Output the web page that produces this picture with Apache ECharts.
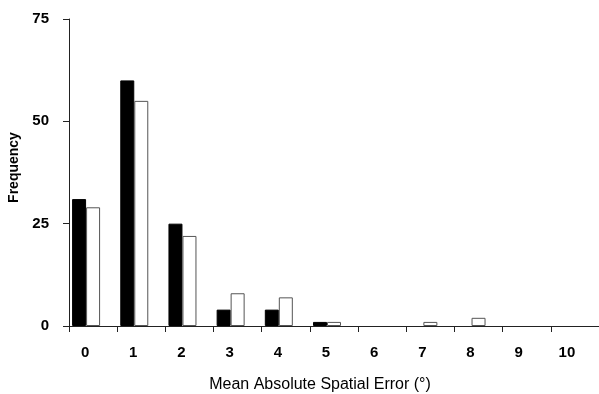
<!DOCTYPE html>
<html>
<head>
<meta charset="utf-8">
<script src="https://cdn.jsdelivr.net/npm/echarts@6/dist/echarts.min.js"></script>
<style>
  html, body { margin: 0; padding: 0; background: #fff; }
  #chart { width: 599px; height: 394px; }
</style>
</head>
<body>
<div id="chart"></div>
<script>
// mean absolute spatial error histogram
var categories = ['0', '1', '2', '3', '4', '5', '6', '7', '8', '9', '10'];
var blackValues = [31, 60, 25, 4, 4, 1, 0, 0, 0, 0, 0];
var whiteValues = [29, 55, 22, 8, 7, 1, 0, 1, 2, 0, 0];
var yTicks = [0, 25, 50, 75];

var chart = echarts.init(document.getElementById('chart'));
var font = 'Liberation Sans, Arial, sans-serif';

// zero counts draw nothing in the original
function noZero(arr) {
    return arr.map(function (v) { return v === 0 ? '-' : v; });
}

var option = {
    animation: false,
    grid: { left: 69, right: 0, top: 19, bottom: 68, outerBoundsMode: 'none' },
    xAxis: {
        type: 'category',
        data: categories,
        name: 'Mean Absolute Spatial Error (°)',
        nameLocation: 'middle',
        nameGap: 51,
        nameTextStyle: { color: '#000', fontSize: 16, fontFamily: font, padding: [0, 28, 0, 0] },
        axisLine: { lineStyle: { color: '#222', width: 1 } },
        axisTick: { show: true, length: 6, inside: false, lineStyle: { color: '#222' } },
        axisLabel: { color: '#000', fontSize: 15, fontWeight: 'bold', fontFamily: font, margin: 19, padding: [0, 16, 0, 0] }
    },
    yAxis: {
        type: 'value',
        min: yTicks[0],
        max: yTicks[yTicks.length - 1],
        interval: 25,
        name: 'Frequency',
        nameLocation: 'middle',
        nameGap: 47,
        nameTextStyle: { color: '#000', fontSize: 14, fontWeight: 'bold', fontFamily: font, padding: [0, 0, 0, 10] },
        axisLine: { show: true, lineStyle: { color: '#222', width: 1 } },
        axisTick: { show: true, length: 6, lineStyle: { color: '#222' } },
        splitLine: { show: false },
        axisLabel: { color: '#000', fontSize: 15, fontWeight: 'bold', fontFamily: font, margin: 20 }
    },
    series: [
        {
            name: 'black',
            type: 'bar',
            barWidth: 14,
            barGap: 0,
            data: noZero(blackValues),
            itemStyle: { color: '#000', borderColor: '#000', borderWidth: 1 }
        },
        {
            name: 'white',
            type: 'bar',
            barWidth: 14,
            barGap: 0,
            data: noZero(whiteValues),
            itemStyle: { color: '#fff', borderColor: '#555', borderWidth: 1 }
        },
        {
            // empty slot so the pair sits left in each category
            name: 'spacer',
            type: 'bar',
            barWidth: 14,
            barGap: 0,
            silent: true,
            data: categories.map(function () { return '-'; })
        }
    ]
};
chart.setOption(option);
</script>
</body>
</html>
